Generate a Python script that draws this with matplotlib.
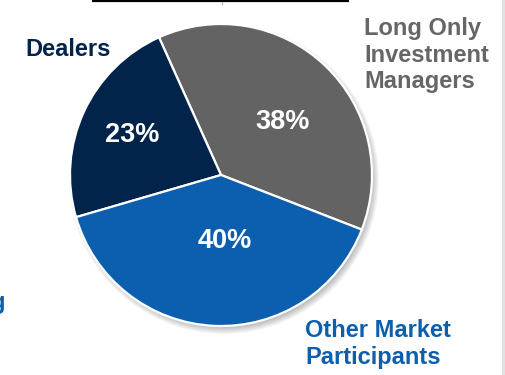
import numpy as np
import matplotlib.pyplot as plt
from matplotlib.patches import Circle, Rectangle

# market share by participant type (%)
categories = ["Long Only\nInvestment\nManagers", "Dealers", "Other Market\nParticipants"]
shares = [38, 23, 40]
colors = ["#636363", "#02234a", "#0b5fae"]

plt.rcParams["font.family"] = ["Liberation Sans", "DejaVu Sans"]

fig = plt.figure(figsize=(5.06, 3.75), dpi=100)
ax = fig.add_axes([0, 0, 1, 1])

cx, cy, r = 221, 200, 151

# soft drop shadow under the pie
for i in range(8):
    ax.add_patch(Circle((cx + 3, cy - 4), r + 4 - i, color="black",
                        alpha=0.035, lw=0, zorder=1))

wedges, _ = ax.pie(shares, colors=colors, startangle=-21.2, counterclock=True,
                   center=(cx, cy), radius=r, frame=True,
                   wedgeprops=dict(edgecolor="white", linewidth=1.6))
for w in wedges:
    w.set_zorder(2)
ax.set_xlim(0, 506)
ax.set_ylim(0, 375)
ax.set_aspect("equal")
ax.axis("off")

# percentage labels inside the slices
pct_pos = [(283, 253), (132, 240), (225, 134)]
for (x, y), v in zip(pct_pos, shares):
    ax.text(x, y, f"{v}%", color="white", fontsize=19.5, fontweight="bold",
            ha="center", va="center", zorder=3)

# category labels around the pie
ax.text(364, 320, categories[0], color="#666666", fontsize=17,
        fontweight="bold", ha="left", va="center")
ax.text(25, 325, categories[1], color="#02234a", fontsize=17,
        fontweight="bold", ha="left", va="center")
ax.text(305, 31, categories[2], color="#0b5fae", fontsize=17,
        fontweight="bold", ha="left", va="center")
ax.text(-9.5, 73, "g", color="#0b5fae", fontsize=17, fontweight="bold",
        ha="left", va="center")

# frame pieces at the edges
ax.plot([92, 349], [374.2, 374.2], color="black", lw=1.6, solid_capstyle="butt")
ax.plot([222, 222], [371.5, 373.5], color="#aaaaaa", lw=0.8)
ax.add_patch(Rectangle((502.5, 0), 4, 375, color="#e2e2e2", lw=0))

fig.savefig("out.png", dpi=100)
